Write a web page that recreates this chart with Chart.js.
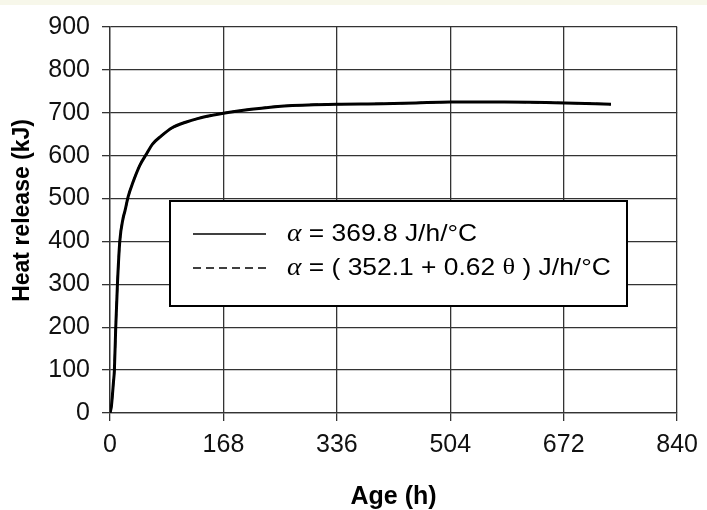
<!DOCTYPE html>
<html>
<head>
<meta charset="utf-8">
<script src="https://cdn.jsdelivr.net/npm/chart.js@4.4.0/dist/chart.umd.min.js"></script>
<style>
  html, body { margin: 0; padding: 0; background: #fff; }
</style>
</head>
<body>
<canvas id="bieuDoNhiet" width="707" height="510"></canvas>
<script>
// Số liệu
const ageHours = [0, 2, 3.5, 5, 6.5, 8.5, 11, 14.5, 19.5, 22, 27, 34, 44, 54, 63, 76, 92, 112, 131, 151, 168, 209, 258, 336, 404, 453, 504, 584, 674, 742];
const heatConstAlpha = [0, 15, 40, 70, 100, 200, 300, 400, 455, 470, 505, 538, 577, 604, 627, 646, 665, 678, 687, 694, 699, 708, 716, 720, 721, 723, 725, 725, 723, 720];
const heatVarAlpha = [0, 15, 40, 70, 100, 200, 300, 400, 455, 470, 505, 538, 577, 604, 627, 646, 665, 678, 687, 694, 699, 708, 716, 720, 721, 723, 725, 725, 723, 720];
const seriesLabels = ["α = 369.8 J/h/°C", "α = ( 352.1 + 0.62 θ ) J/h/°C"];
const xStep = 168;
const xMax = 840;
const yStep = 100;
const yMax = 900;

Chart.defaults.font.family = "'Liberation Sans', Arial, sans-serif";
Chart.defaults.color = "#111";

function toPoints(xs, ys) {
  return xs.map((x, i) => ({ x: x, y: ys[i] }));
}

// nền trắng + dải màu kem phía trên
const nenTrang = {
  id: "nenTrang",
  beforeDraw(chart) {
    const ctx = chart.ctx;
    ctx.save();
    ctx.fillStyle = "#fff";
    ctx.fillRect(0, 0, chart.width, chart.height);
    ctx.fillStyle = "#f7f7ea";
    ctx.fillRect(0, 0, chart.width, 5);
    ctx.restore();
  },
};

// hộp chú giải nằm trong vùng vẽ
const hopChuGiai = {
  id: "hopChuGiai",
  afterDatasetsDraw(chart) {
    const ctx = chart.ctx;
    const bx = 170, by = 201, bw = 457, bh = 105;
    ctx.save();
    ctx.fillStyle = "#fff";
    ctx.fillRect(bx, by, bw, bh);
    ctx.strokeStyle = "#000";
    ctx.lineWidth = 2;
    ctx.strokeRect(bx, by, bw, bh);

    chart.data.datasets.forEach((ds, i) => {
      const y = 234 + i * 34;
      ctx.beginPath();
      ctx.setLineDash(ds.borderDash || []);
      ctx.lineWidth = 1.6;
      ctx.moveTo(193, y);
      ctx.lineTo(266, y);
      ctx.stroke();
      ctx.setLineDash([]);

      // chữ hơi giãn ngang như hình gốc
      ctx.save();
      ctx.translate(287, y);
      ctx.scale(1.1, 1);
      let x = 0;
      ctx.fillStyle = "#000";
      ctx.textBaseline = "middle";
      ds.label.split(/([αθ])/).forEach((part) => {
        if (!part) return;
        if (part === "α") ctx.font = "italic 25px 'Liberation Serif', serif";
        else if (part === "θ") ctx.font = "24px 'Liberation Serif', serif";
        else ctx.font = "24px 'Liberation Sans', Arial, sans-serif";
        ctx.fillText(part, x, 0);
        x += ctx.measureText(part).width;
      });
      ctx.restore();
    });
    ctx.restore();
  },
};

new Chart(document.getElementById("bieuDoNhiet"), {
  type: "line",
  data: {
    datasets: [
      {
        label: seriesLabels[0],
        data: toPoints(ageHours, heatConstAlpha),
        borderColor: "#000",
        borderWidth: 3,
        pointRadius: 0,
        fill: false,
        cubicInterpolationMode: "monotone",
      },
      {
        label: seriesLabels[1],
        data: toPoints(ageHours, heatVarAlpha),
        borderColor: "#000",
        borderWidth: 2,
        borderDash: [8, 5],
        pointRadius: 0,
        fill: false,
        cubicInterpolationMode: "monotone",
      },
    ],
  },
  options: {
    responsive: false,
    animation: false,
    layout: { padding: { top: 23, right: 21, left: 0, bottom: 0 } },
    plugins: {
      legend: { display: false },
      tooltip: { enabled: false },
    },
    scales: {
      x: {
        type: "linear",
        min: 0,
        max: xMax,
        ticks: { stepSize: xStep, padding: 9, font: { size: 25 }, color: "#111" },
        grid: { color: "#333", lineWidth: 1.3, tickLength: 8, tickColor: "#333" },
        border: { color: "#333", width: 1.3 },
        title: {
          display: true,
          text: "Age (h)",
          font: { size: 25, weight: "bold", lineHeight: 1.04 },
          color: "#000",
          padding: { top: 0, bottom: 0 },
        },
        afterFit(scale) {
          scale.height = 97;
        },
      },
      y: {
        min: 0,
        max: yMax,
        ticks: { stepSize: yStep, padding: 12, font: { size: 25 }, color: "#111" },
        grid: { color: "#333", lineWidth: 1.3, tickLength: 8, tickColor: "#333" },
        border: { color: "#333", width: 1.3 },
        title: {
          display: true,
          text: "   Heat release (kJ)",
          font: { size: 23, weight: "bold" },
          color: "#000",
          padding: { top: 9, bottom: 0 },
        },
        afterFit(scale) {
          scale.width = 110;
        },
      },
    },
  },
  plugins: [nenTrang, hopChuGiai],
});
</script>
</body>
</html>
